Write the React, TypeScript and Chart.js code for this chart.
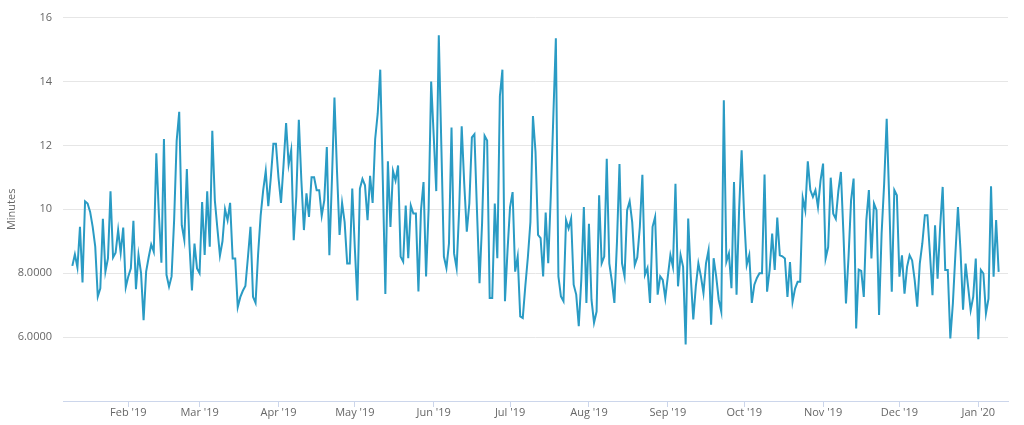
import React, { useEffect, useRef } from "react";
import { Chart, registerables } from "chart.js";

Chart.register(...registerables);

// Daily average minutes, first point on 2019-01-10
const seriesStart = "2019-01-10";

const jan2019 = [8.23, 8.59, 8.18, 9.45, 7.71, 10.25, 10.18, 9.92, 9.45, 8.83, 7.27, 7.53, 9.7, 8.05, 8.46, 10.56, 8.49, 8.64, 9.35, 8.64, 9.43, 7.56];
const feb2019 = [7.9, 8.15, 9.64, 7.5, 8.57, 8.0, 6.53, 8.05, 8.5, 8.9, 8.67, 11.75, 9.87, 8.33, 12.2, 7.95, 7.58, 7.9, 9.66, 12.15, 13.05, 9.5, 9.04, 11.26, 8.93, 7.46, 8.93, 8.15];
const mar2019 = [8.0, 10.23, 8.57, 10.56, 8.83, 12.46, 10.28, 9.4, 8.55, 9.0, 10.0, 9.66, 10.2, 8.46, 8.46, 6.94, 7.25, 7.45, 7.6, 8.5, 9.45, 7.26, 7.07, 8.6, 9.8, 10.6, 11.2, 10.1, 11.0, 12.05, 12.05];
const apr2019 = [11.0, 10.2, 11.4, 12.7, 11.4, 11.85, 9.03, 10.4, 12.8, 10.9, 9.35, 10.5, 9.76, 11.0, 11.0, 10.6, 10.6, 9.8, 10.28, 11.95, 8.56, 10.9, 13.5, 11.2, 9.2, 10.2, 9.6, 8.3, 8.3, 10.65];
const may2019 = [8.8, 7.15, 10.65, 10.95, 10.75, 9.66, 11.05, 10.2, 12.2, 13.0, 14.37, 10.9, 7.35, 11.5, 9.45, 11.2, 10.9, 11.37, 8.52, 8.36, 10.12, 8.47, 10.12, 9.87, 9.87, 7.43, 9.97, 10.85, 7.9, 10.0, 14.0];
const jun2019 = [12.3, 10.57, 15.45, 12.0, 8.52, 8.16, 8.93, 12.56, 8.62, 8.16, 9.97, 12.6, 10.8, 9.3, 10.18, 12.25, 12.35, 9.97, 7.69, 9.55, 12.3, 12.15, 7.22, 7.22, 10.18, 8.47, 13.54, 14.37, 7.12, 8.7];
const jul2019 = [10.07, 10.54, 8.05, 8.52, 6.65, 6.6, 7.6, 8.5, 9.6, 12.92, 11.8, 9.2, 9.1, 7.9, 9.9, 8.31, 10.4, 12.9, 15.35, 7.9, 7.27, 7.12, 9.66, 9.4, 9.71, 7.64, 7.33, 6.34, 7.8, 10.07, 7.07];
const aug2019 = [9.55, 7.17, 6.45, 6.8, 10.44, 8.31, 8.52, 11.58, 8.31, 7.75, 7.07, 8.95, 11.42, 8.31, 7.9, 9.97, 10.25, 9.6, 8.26, 8.5, 9.45, 11.08, 7.95, 8.16, 7.07, 9.45, 9.76, 7.33, 7.9, 7.79, 7.22];
const sep2019 = [7.9, 8.57, 8.2, 10.8, 7.59, 8.57, 8.2, 5.77, 9.71, 7.9, 6.55, 7.59, 8.31, 7.9, 7.38, 8.31, 8.72, 6.39, 8.47, 7.9, 7.17, 6.8, 13.41, 8.36, 8.62, 7.53, 10.85, 7.33, 9.97, 11.85];
const oct2019 = [9.76, 8.26, 8.57, 7.07, 7.64, 7.85, 8.0, 8.0, 11.09, 7.42, 8.1, 9.24, 8.1, 9.74, 8.56, 8.53, 8.46, 7.26, 8.35, 7.1, 7.52, 7.73, 7.73, 10.36, 9.97, 11.5, 10.6, 10.39, 10.6, 10.07, 10.9];
const nov2019 = [11.43, 8.46, 8.82, 10.99, 9.86, 9.7, 10.57, 11.17, 9.24, 7.05, 8.5, 10.28, 10.96, 6.27, 8.11, 8.07, 7.26, 9.66, 10.6, 8.46, 10.18, 9.97, 6.69, 9.24, 10.8, 12.83, 10.28, 7.42, 10.6, 10.44];
const dec2019 = [7.89, 8.56, 7.36, 8.2, 8.56, 8.4, 7.78, 6.95, 8.3, 8.93, 9.81, 9.81, 8.61, 7.31, 9.5, 7.83, 9.45, 10.7, 8.1, 8.1, 5.96, 7.05, 8.61, 10.07, 8.72, 6.86, 8.3, 7.57, 6.84, 7.26, 8.46];
const jan2020 = [5.93, 8.1, 7.99, 6.74, 7.2, 10.72, 7.89, 9.66, 8.04];

const monthTickDates = ["2019-02-01", "2019-03-01", "2019-04-01", "2019-05-01", "2019-06-01", "2019-07-01", "2019-08-01", "2019-09-01", "2019-10-01", "2019-11-01", "2019-12-01", "2020-01-01"];
const monthTickLabels = ["Feb '19", "Mar '19", "Apr '19", "May '19", "Jun '19", "Jul '19", "Aug '19", "Sep '19", "Oct '19", "Nov '19", "Dec '19", "Jan '20"];

const yTickValues = [4, 6, 8, 10, 12, 14, 16];
const yTickLabels = ["", "6.0000", "8.0000", "10", "12", "14", "16"];
const yAxisTitle = "Minutes";

const xRangeStart = "2019-01-06T08:00:00Z";
const xRangeEnd = "2020-01-12T16:00:00Z";

const DAY = 86400000;

export default function App() {
  const canvasRef = useRef<HTMLCanvasElement | null>(null);

  useEffect(() => {
    if (!canvasRef.current) return;
    const start = Date.parse(seriesStart);
    const minutes = [
      ...jan2019, ...feb2019, ...mar2019, ...apr2019, ...may2019, ...jun2019,
      ...jul2019, ...aug2019, ...sep2019, ...oct2019, ...nov2019, ...dec2019, ...jan2020,
    ];
    const points = minutes.map((v, i) => ({ x: start + i * DAY, y: v }));
    const tickTimes = monthTickDates.map((d) => Date.parse(d));
    const font = { family: "'Open Sans', 'DejaVu Sans', sans-serif", size: 11 };

    const chart = new Chart(canvasRef.current, {
      type: "line",
      data: {
        datasets: [
          {
            data: points,
            borderColor: "#2a9bc4",
            borderWidth: 2,
            pointRadius: 0,
            pointHoverRadius: 0,
            tension: 0,
            fill: false,
          },
        ],
      },
      options: {
        animation: false,
        responsive: false,
        maintainAspectRatio: false,
        layout: { padding: { top: 16, right: 16, left: 0, bottom: 0 } },
        plugins: { legend: { display: false }, tooltip: { enabled: false } },
        scales: {
          x: {
            type: "linear",
            min: Date.parse(xRangeStart),
            max: Date.parse(xRangeEnd),
            afterBuildTicks: (scale: any) => {
              scale.ticks = tickTimes.map((v) => ({ value: v }));
            },
            afterFit: (scale: any) => {
              scale.height = 24;
            },
            ticks: {
              autoSkip: false,
              maxRotation: 0,
              minRotation: 0,
              padding: 0,
              color: "#666666",
              font: { ...font, lineHeight: 1 },
              callback: (value: any) => {
                const i = tickTimes.indexOf(Number(value));
                return i >= 0 ? monthTickLabels[i] : "";
              },
            },
            grid: {
              drawOnChartArea: false,
              drawTicks: true,
              tickLength: 6,
              color: "#ccd6eb",
            },
            border: { display: true, color: "#ccd6eb", width: 1 },
          },
          y: {
            type: "linear",
            min: 4,
            max: 16,
            afterBuildTicks: (scale: any) => {
              scale.ticks = yTickValues.map((v) => ({ value: v }));
            },
            afterFit: (scale: any) => {
              scale.width = 63;
            },
            ticks: {
              padding: 11,
              color: "#666666",
              font,
              callback: (value: any) => {
                const i = yTickValues.indexOf(Number(value));
                return i >= 0 ? yTickLabels[i] : "";
              },
            },
            grid: { color: "#e6e6e6", drawTicks: false, lineWidth: 1 },
            border: { display: false },
            title: {
              display: true,
              text: yAxisTitle,
              color: "#666666",
              font,
              padding: { top: 5, bottom: 0 },
            },
          },
        },
      },
    } as any);

    return () => chart.destroy();
  }, []);

  return (
    <div style={{ position: "absolute", left: 0, top: 0, width: 1024, height: 425, background: "#ffffff" }}>
      <canvas ref={canvasRef} width={1024} height={425} style={{ display: "block" }} />
    </div>
  );
}
